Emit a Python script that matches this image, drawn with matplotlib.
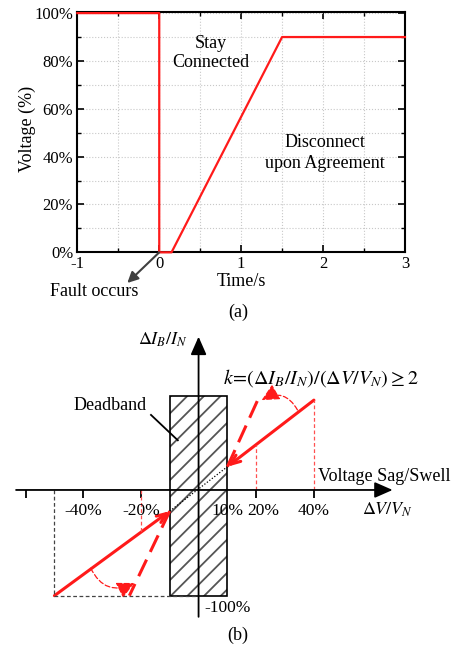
import numpy as np
import matplotlib.pyplot as plt
from matplotlib.patches import Rectangle, FancyArrowPatch
from matplotlib.ticker import MultipleLocator, PercentFormatter

plt.rcParams['font.family'] = ['Liberation Serif', 'DejaVu Serif']
plt.rcParams['mathtext.fontset'] = 'stix'
plt.rcParams['axes.unicode_minus'] = False
plt.rcParams['hatch.linewidth'] = 1.3

# ---- data, panel (a): voltage ride-through profile
time_s = [-1, 0, 0, 0.15, 1.5, 3]
voltage_pct = [100, 100, 0, 0, 90, 90]

# ---- data, panel (b): reactive current vs voltage deviation (%)
solid_left_x = [-50, -10]
solid_left_y = [-100, -20]
solid_right_x = [10, 40]
solid_right_y = [22, 85]
dash_left_x = [-10, -24]
dash_left_y = [-20, -100]
dash_right_x = [10, 21]
dash_right_y = [22, 88]
deadband = [-10, 10]
deadband_top = 89
guide_x = [-20, 20, 40]
tick_x = [-60, -40, -20, 20, 40]
tick_labels = ['-40%', '-20%', '10%', '20%', '40%']
tick_label_x = [-40, -20, 10, 22.5, 40]

red = '#ff1a1a'

fig = plt.figure(figsize=(4.55, 6.48), dpi=100)

# ================= (a)
ax = fig.add_axes([0.170, 0.6106, 0.720, 0.371])
ax.plot(time_s, voltage_pct, color=red, lw=1.6, zorder=3, clip_on=False)
ax.set_xlim(-1, 3)
ax.set_ylim(0, 100.5)
ax.xaxis.set_major_locator(MultipleLocator(1))
ax.xaxis.set_minor_locator(MultipleLocator(0.5))
ax.yaxis.set_major_locator(MultipleLocator(20))
ax.yaxis.set_minor_locator(MultipleLocator(10))
ax.yaxis.set_major_formatter(PercentFormatter(decimals=0))
ax.grid(which='both', color='#c8c8c8', ls=':', lw=0.8)
ax.tick_params(which='both', direction='in', top=True, right=True, labelsize=12, pad=3)
ax.tick_params(which='major', length=5, width=1.2)
ax.tick_params(which='minor', length=3, width=1)
for s in ax.spines.values():
    s.set_linewidth(1.5)
ax.set_xlabel('Time/s', fontsize=13)
ax.xaxis.set_label_coords(0.5, -0.085)
ax.set_ylabel('Voltage (%)', fontsize=13)
ax.yaxis.set_label_coords(-0.125, 0.515)

ax.text(0.63, 83.5, 'Stay\nConnected', fontsize=13, ha='center', va='center', linespacing=1.15)
ax.text(2.02, 41.5, 'Disconnect\nupon Agreement', fontsize=13, ha='center', va='center', linespacing=1.25)

ax.annotate('', xy=(-0.39, -12.8), xytext=(0, 0),
            arrowprops=dict(arrowstyle='-|>', color='#404040', lw=1.5,
                            mutation_scale=16, shrinkA=0, shrinkB=0),
            annotation_clip=False)
ax.text(-0.79, -16.5, 'Fault occurs', fontsize=13, ha='center', va='center', clip_on=False)
fig.text(238 / 455, 1 - 312 / 648, '(a)', fontsize=13, ha='center', va='center')

# ================= (b)
bx = fig.add_axes([0, 0, 1, 328 / 648])
bx.set_xlim(-68.87, 88.94)
bx.set_ylim(-149.5, 160.8)
bx.axis('off')

# deadband box
bx.add_patch(Rectangle((deadband[0], -100), deadband[1] - deadband[0], deadband_top + 100,
                       facecolor='none', edgecolor='#555555', hatch='//', lw=0))
bx.add_patch(Rectangle((deadband[0], -100), deadband[1] - deadband[0], deadband_top + 100,
                       facecolor='none', edgecolor='black', lw=1.2))

# axes with arrows
bx.annotate('', xy=(67.3, 0), xytext=(-63.3, 0),
            arrowprops=dict(arrowstyle='-|>,head_length=0.5,head_width=0.22', color='black', lw=1.3,
                            mutation_scale=22, shrinkA=0, shrinkB=0))
bx.annotate('', xy=(0, 145), xytext=(0, -120),
            arrowprops=dict(arrowstyle='-|>,head_length=0.5,head_width=0.22', color='black', lw=1.3,
                            mutation_scale=22, shrinkA=0, shrinkB=0))
bx.vlines(tick_x, -7.5, 0, color='black', lw=1.3)

# guides
bx.plot([solid_left_x[0]] * 2, [0, solid_left_y[0]], color='#444444', lw=0.9, ls=(0, (3, 2)))
bx.plot([solid_left_x[0], 0], [solid_left_y[0]] * 2, color='#444444', lw=0.9, ls=(0, (3, 2)))
for gx in guide_x:
    if gx < 0:
        gy = np.interp(gx, solid_left_x, solid_left_y)
    else:
        gy = np.interp(gx, solid_right_x, solid_right_y)
    bx.plot([gx, gx], [0, gy], color='#ff5050', lw=0.9, ls=(0, (3, 2)))
bx.plot([solid_left_x[1], solid_right_x[0]], [solid_left_y[1], solid_right_y[0]],
        color='black', lw=0.9, ls=(0, (1, 1.5)))

# characteristic lines, arrowheads pointing at the deadband corners
bx.add_patch(FancyArrowPatch(posA=(solid_left_x[0], solid_left_y[0]), posB=(solid_left_x[1], solid_left_y[1]),
                             arrowstyle='->,head_length=0.5,head_width=0.2', color=red, lw=2.2,
                             mutation_scale=14, shrinkA=0, shrinkB=0))
bx.add_patch(FancyArrowPatch(posA=(solid_right_x[1], solid_right_y[1]), posB=(solid_right_x[0], solid_right_y[0]),
                             arrowstyle='->,head_length=0.5,head_width=0.2', color=red, lw=2.2,
                             mutation_scale=14, shrinkA=0, shrinkB=0))
bx.plot(dash_left_x, dash_left_y, color=red, lw=2.2, ls=(0, (6, 2.8)))
bx.plot(dash_right_x, dash_right_y, color=red, lw=2.2, ls=(0, (6, 2.8)))

# curved arrows
bx.add_patch(FancyArrowPatch(posA=(34.3, 75.7), posB=(21.9, 85), connectionstyle='arc3,rad=0.5',
                             arrowstyle='-|>,head_length=0.7,head_width=0.35', color=red, lw=0.9,
                             ls=(0, (4, 2)), mutation_scale=15, shrinkA=0, shrinkB=0))
bx.add_patch(FancyArrowPatch(posA=(-37.4, -74), posB=(-22.3, -88), connectionstyle='arc3,rad=0.5',
                             arrowstyle='-|>,head_length=0.7,head_width=0.35', color=red, lw=0.9,
                             ls=(0, (4, 2)), mutation_scale=15, shrinkA=0, shrinkB=0))

# Deadband label
bx.plot([-16.5, -7.2], [71, 47], color='black', lw=1.3)
bx.text(-30.7, 79.5, 'Deadband', fontsize=13, ha='center', va='center')

# text labels
for lx, lab in zip(tick_label_x, tick_labels):
    bx.text(lx, -19.6, lab, fontsize=12.5, ha='center', va='center')
bx.text(10.1, -111.6, '-100%', fontsize=12.5, ha='center', va='center')
bx.text(65.5, -19, r'$\Delta V/V_N$', fontsize=13, ha='center', va='center')
bx.text(-12.4, 142, r'$\Delta I_B/I_N$', fontsize=13, ha='center', va='center')
bx.text(8.5, 105.7, r'$k\!=\!(\Delta I_B/I_N)/(\Delta V/V_N)\geq 2$', fontsize=14.5, ha='left', va='center')
bx.text(41.4, 13.2, 'Voltage Sag/Swell', fontsize=13, ha='left', va='center')
fig.text(237.7 / 455, 1 - 635 / 648, '(b)', fontsize=13, ha='center', va='center')

fig.savefig('out.png', dpi=100)
